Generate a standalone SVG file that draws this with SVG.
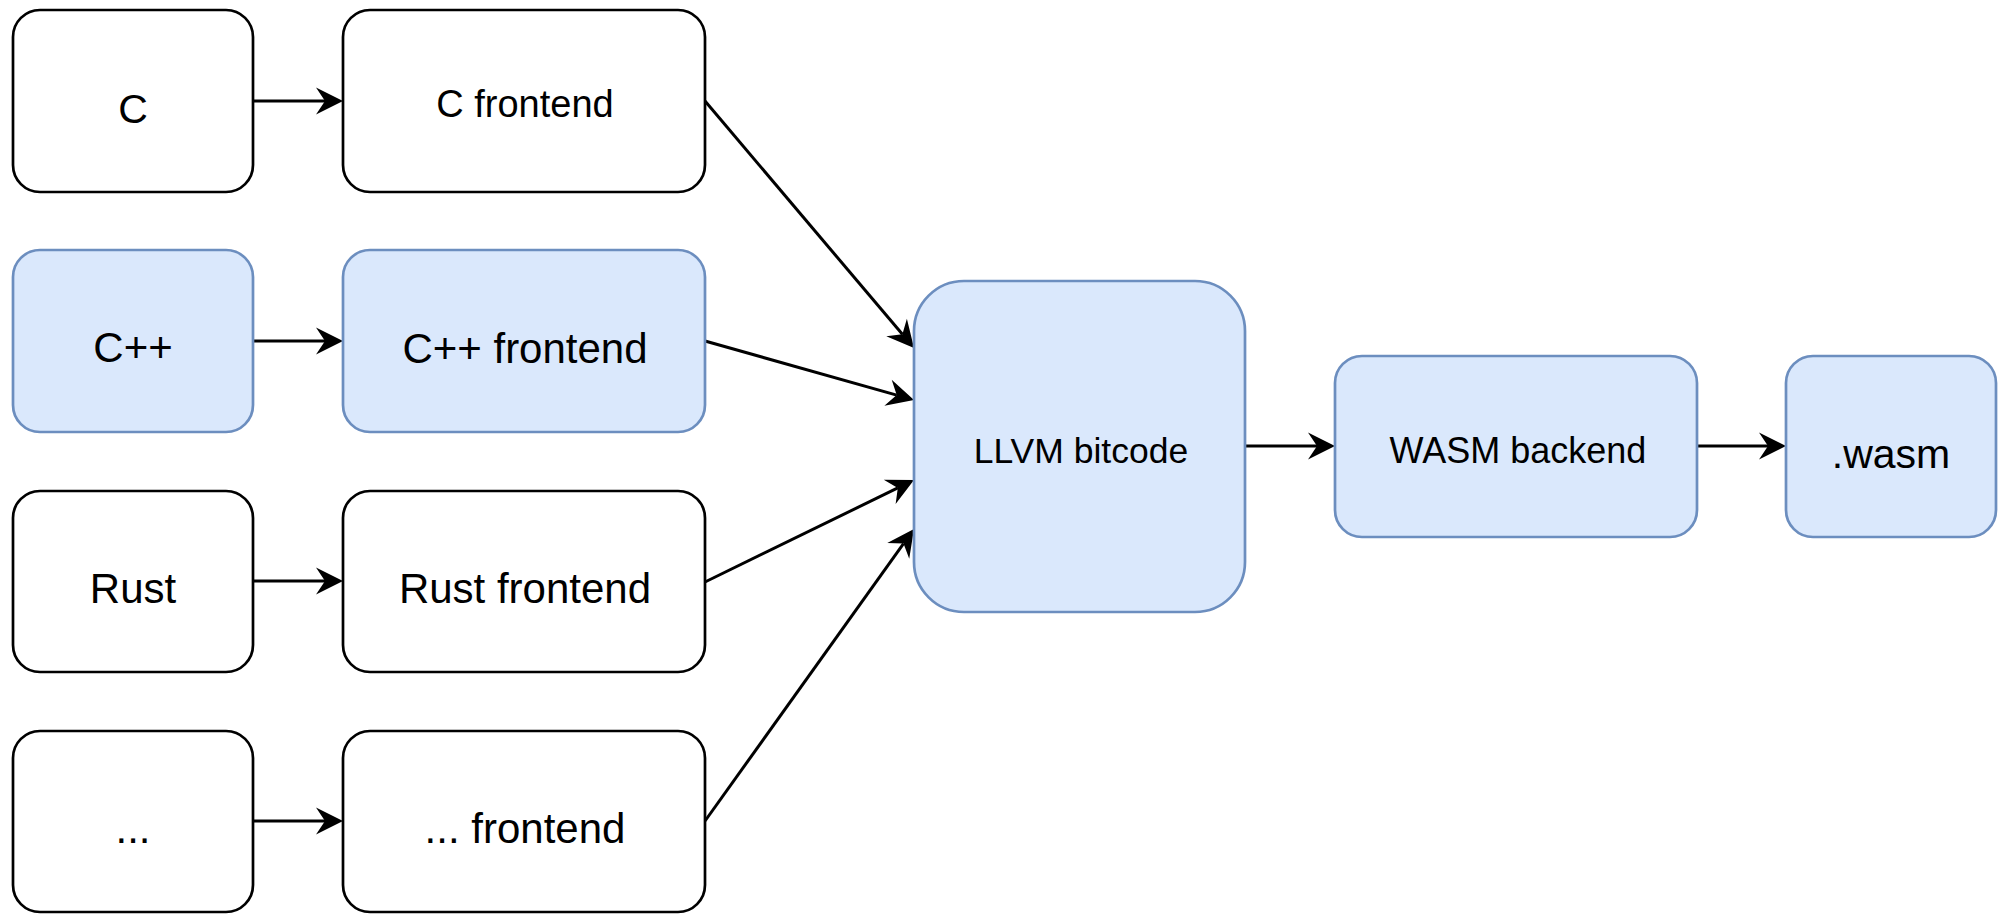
<svg xmlns="http://www.w3.org/2000/svg" width="2007" height="914" viewBox="0 0 2007 914">
<style>
.w{fill:#ffffff;stroke:#000000;stroke-width:2.7}
.b{fill:#dae8fc;stroke:#6c8ebf;stroke-width:2.7}
text{font-family:"Liberation Sans",Arial,sans-serif;fill:#000;text-anchor:middle}
.c{fill:none;stroke:#000;stroke-width:3}
</style>
<defs>
<marker id="arr" markerUnits="userSpaceOnUse" markerWidth="30" markerHeight="30" viewBox="-3 -15 30 30" refX="7" refY="0" orient="auto">
<path d="M25,0 L-2,-13.5 L7,0 L-2,13.5 Z" fill="#000"/>
</marker>
</defs>
<rect width="2007" height="914" fill="#ffffff"/>
<g id="connectors">
<path class="c" d="M253,101 L325,101" marker-end="url(#arr)"/>
<path class="c" d="M253,341 L325,341" marker-end="url(#arr)"/>
<path class="c" d="M253,581 L325,581" marker-end="url(#arr)"/>
<path class="c" d="M253,821 L325,821" marker-end="url(#arr)"/>
<path class="c" d="M705,101 L902.4,334.3" marker-end="url(#arr)"/>
<path class="c" d="M705,341 L896.7,395.1" marker-end="url(#arr)"/>
<path class="c" d="M705,582 L897.8,487.9" marker-end="url(#arr)"/>
<path class="c" d="M705,821 L903.5,543.6" marker-end="url(#arr)"/>
<path class="c" d="M1245,446 L1317,446" marker-end="url(#arr)"/>
<path class="c" d="M1697,446 L1768,446" marker-end="url(#arr)"/>
</g>
<g id="n-c"><rect class="w" x="13" y="10" width="240" height="182" rx="27"/><text x="133" y="123" font-size="41">C</text></g>
<g id="n-cfront"><rect class="w" x="343" y="10" width="362" height="182" rx="27"/><text x="525" y="117" font-size="38">C frontend</text></g>
<g id="n-cpp"><rect class="b" x="13" y="250" width="240" height="182" rx="27"/><text x="133" y="362" font-size="42">C++</text></g>
<g id="n-cppfront"><rect class="b" x="343" y="250" width="362" height="182" rx="27"/><text x="525" y="363" font-size="42">C++ frontend</text></g>
<g id="n-rust"><rect class="w" x="13" y="491" width="240" height="181" rx="27"/><text x="133" y="603" font-size="42">Rust</text></g>
<g id="n-rustfront"><rect class="w" x="343" y="491" width="362" height="181" rx="27"/><text x="525" y="603" font-size="42">Rust frontend</text></g>
<g id="n-etc"><rect class="w" x="13" y="731" width="240" height="181" rx="27"/><text x="133" y="843" font-size="42">...</text></g>
<g id="n-etcfront"><rect class="w" x="343" y="731" width="362" height="181" rx="27"/><text x="525" y="843" font-size="42">... frontend</text></g>
<g id="n-llvm"><rect class="b" x="914" y="281" width="331" height="331" rx="50"/><text x="1081" y="463" font-size="35.5">LLVM bitcode</text></g>
<g id="n-wasmback"><rect class="b" x="1335" y="356" width="362" height="181" rx="27"/><text x="1518" y="463" font-size="36">WASM backend</text></g>
<g id="n-wasm"><rect class="b" x="1786" y="356" width="210" height="181" rx="27"/><text x="1891" y="468" font-size="41">.wasm</text></g>
</svg>
